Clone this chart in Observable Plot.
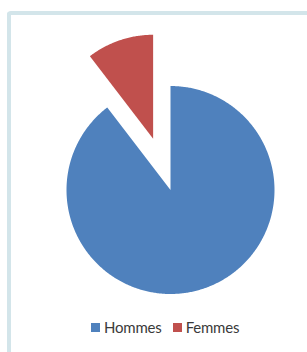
<!DOCTYPE html>
<html>
<head>
<meta charset="utf-8">
<script src="https://cdn.jsdelivr.net/npm/d3@7"></script>
<script src="https://cdn.jsdelivr.net/npm/@observablehq/plot@0.6"></script>
<style>
  html, body { margin: 0; padding: 0; background: #fff; }
  body { width: 307px; height: 352px; position: relative; overflow: hidden; font-family: Lato, "Open Sans", "Liberation Sans", sans-serif; }
  #frame { position: absolute; left: 7px; top: 11px; width: 304px; height: 345px; box-sizing: border-box;
           border: 4px solid #d3e5ea; border-right: none; border-bottom: 3px solid #d3e5ea; border-radius: 4px 0 0 4px; }
  #chart { position: absolute; left: 0; top: 0; }
  #legend { position: absolute; left: 91px; top: 317px; display: flex; gap: 11px;
            font-size: 15px; line-height: 20px; color: #3a3a3a; letter-spacing: -0.2px; }
  .item { display: flex; align-items: center; gap: 4px; }
  .sw { width: 9px; height: 9px; display: inline-block; }
</style>
</head>
<body>
<div id="frame"></div>
<div id="chart"></div>
<div id="legend"></div>
<script>
const categories = ["Hommes", "Femmes"];
const values = [89.6, 10.4];
const colors = ["#4f81bd", "#c0504d"];
const explode = [0, 0.52];

const W = 307, H = 310, R = 104, CX = 170, CY = 189.5;

const pie = d3.pie().sort(null).value(d => d.value);
const arcs = pie(categories.map((c, i) => ({category: c, value: values[i], explode: explode[i]})));

// Polygon outline for each slice in data units (radius 1)
const pts = [];
for (const a of arcs) {
  const mid = (a.startAngle + a.endAngle) / 2;
  const ox = a.data.explode * Math.sin(mid), oy = a.data.explode * Math.cos(mid);
  const n = Math.max(4, Math.ceil((a.endAngle - a.startAngle) / 0.01));
  pts.push({category: a.data.category, x: ox, y: oy});
  for (let k = 0; k <= n; k++) {
    const t = a.startAngle + (a.endAngle - a.startAngle) * k / n;
    pts.push({category: a.data.category, x: ox + Math.sin(t), y: oy + Math.cos(t)});
  }
  pts.push({category: a.data.category, x: ox, y: oy});
}

const chart = Plot.plot({
  width: W, height: H,
  margin: 0,
  x: {domain: [-CX / R, (W - CX) / R], axis: null},
  y: {domain: [-(H - CY) / R, CY / R], axis: null},
  color: {domain: categories, range: colors},
  marks: [
    Plot.line(pts, {x: "x", y: "y", z: "category", fill: "category", stroke: "none", curve: "linear"})
  ]
});
document.getElementById("chart").appendChild(chart);

const legend = document.getElementById("legend");
categories.forEach((c, i) => {
  const it = document.createElement("span");
  it.className = "item";
  const sw = document.createElement("span");
  sw.className = "sw";
  sw.style.background = colors[i];
  it.appendChild(sw);
  it.appendChild(document.createTextNode(c));
  legend.appendChild(it);
});
</script>
</body>
</html>
